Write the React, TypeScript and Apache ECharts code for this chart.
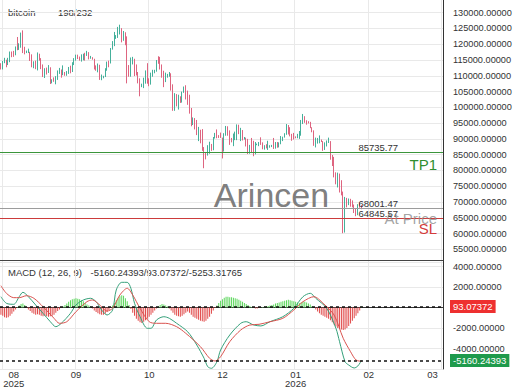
import React, { useEffect, useRef } from 'react';
import * as echarts from 'echarts';

// ---------- data ----------
const startDate = Date.UTC(2025, 7, 2); // 2025-08-02
const slotCount = 242;
const categories: string[] = Array.from({ length: slotCount }, (_, i) =>
  new Date(startDate + i * 86400000).toISOString().slice(0, 10)
);

const tickIndices = [1, 41, 81, 121, 161, 201, 241];
const tickMonths = ['08', '09', '10', '12', '01', '02', '03'];
const tickYears = ['2025', '', '', '', '2026', '', ''];

// [open, close, low, high]
const candles: number[][] = [
  [113300, 112500, 112000, 114000], [112500, 114200, 112000, 114700], [114200, 115000, 114000, 115700],
  [115000, 114100, 112700, 115100], [114100, 115000, 113400, 115700], [115000, 117500, 114300, 117700],
  [117500, 116700, 115900, 117700], [116700, 116500, 116000, 117900], [116500, 119300, 116500, 119300],
  [119300, 118700, 118100, 122300], [118700, 120200, 118200, 120300], [120200, 123300, 118900, 123700],
  [123300, 118400, 117200, 124400], [118400, 117400, 116800, 119200], [117400, 117500, 117200, 118000],
  [117500, 117500, 117200, 118600], [117500, 116300, 114700, 117600], [116300, 112900, 112700, 116800],
  [112900, 114200, 112400, 114600], [114200, 112500, 112100, 114800], [112500, 116900, 111700, 117400],
  [116900, 115400, 114800, 117000], [115400, 113500, 112100, 115600], [113500, 110100, 109600, 113600],
  [110100, 111800, 109300, 112400], [111800, 111200, 110400, 112600], [111200, 112600, 110900, 113400],
  [112600, 108400, 107400, 112700], [108400, 108800, 107600, 108900], [108800, 108300, 108100, 109500],
  // Sep
  [108300, 109200, 107300, 109900], [109200, 111200, 108700, 111700], [111200, 111700, 110600, 112500],
  [111700, 110700, 109400, 112000], [110700, 110700, 110200, 113300], [110700, 110200, 110000, 111200],
  [110200, 111100, 110000, 111500], [111100, 112100, 110600, 112800], [112100, 111500, 110800, 113200],
  [111500, 113900, 111200, 114300], [113900, 115500, 113400, 115600], [115500, 116100, 114800, 116700],
  [116100, 115900, 115300, 116700], [115900, 115300, 114800, 116100], [115300, 115400, 114500, 116800],
  [115400, 116800, 114900, 117000], [116800, 116500, 114800, 117300], [116500, 117100, 116300, 117900],
  [117100, 115700, 115200, 117500], [115700, 115700, 115400, 116300], [115700, 115300, 115100, 115900],
  [115300, 112700, 112000, 115400], [112700, 112000, 111600, 113300], [112000, 113300, 111100, 113900],
  [113300, 109000, 108700, 113500], [109000, 109700, 108600, 110400], [109700, 109700, 109200, 110000],
  [109700, 112100, 109600, 112400], [112100, 114400, 111600, 114500], [114400, 114000, 112700, 114800],
  // Oct
  [114000, 118600, 113900, 118800], [118600, 120600, 118300, 121000], [120600, 122300, 119400, 123900],
  [122300, 122400, 121700, 122900], [122400, 123500, 122000, 125500], [123500, 124700, 123100, 126200],
  [124700, 121400, 120600, 125100], [121400, 123300, 121100, 124200], [123300, 121700, 119700, 123800],
  [121700, 113200, 107600, 122500], [113200, 110600, 109700, 113400], [110600, 115200, 109700, 115800],
  [115200, 115300, 113600, 116000], [115300, 113000, 109900, 115400], [113000, 110800, 110100, 113600],
  [110800, 108200, 107600, 111200], [108200, 106500, 103500, 109200], [106500, 107200, 106400, 107500],
  [107200, 108600, 106100, 109400], [108600, 110500, 107500, 111700], [110500, 108400, 107500, 114000],
  [108400, 107500, 106700, 109200], [107500, 110000, 107200, 111000], [110000, 111000, 109700, 111900],
  [111000, 111600, 110800, 111900], [111600, 114500, 111300, 115000], [114500, 114100, 113800, 116200],
  [114100, 112900, 112000, 116000], [112900, 110000, 109400, 113600], [110000, 108300, 106400, 111600],
  [108300, 109600, 108000, 111000],
  // Nov
  [109600, 110100, 109400, 110600], [110100, 110600, 109700, 111200], [110600, 106500, 105300, 110800],
  [106500, 101600, 98900, 107300], [101600, 103900, 98900, 104500], [103900, 101300, 100300, 104200],
  [101300, 103300, 99300, 104000], [103300, 102300, 101400, 103500], [102300, 104700, 101500, 105000],
  [104700, 106000, 104600, 106600], [106000, 103000, 102500, 107000], [103000, 101600, 100800, 105300],
  [101600, 99700, 98000, 104000], [99700, 94400, 94000, 99800], [94400, 95500, 94400, 96800],
  [95500, 94200, 93000, 96600], [94200, 92200, 91200, 96000], [92200, 92900, 89300, 93800],
  [92900, 91500, 88600, 92900], [91500, 86600, 86200, 93100], [86600, 85100, 80700, 87400],
  [85100, 84700, 83500, 85600], [84700, 86800, 84700, 88000], [86800, 88300, 85300, 89100],
  [88300, 87300, 86200, 88400], [87300, 90500, 86400, 90600], [90500, 91300, 90100, 91900],
  [91300, 90900, 90200, 93000], [90900, 90800, 90300, 91200], [90800, 90400, 90300, 92000],
  // Dec
  [90400, 86300, 83800, 90400], [86300, 91300, 86000, 91800], [91300, 93500, 91000, 94100],
  [93500, 92100, 91000, 94000], [92100, 89400, 88100, 92700], [89400, 89300, 88900, 90300],
  [89300, 90400, 87700, 91700], [90400, 90600, 89600, 92300], [90600, 92700, 89600, 94600],
  [92700, 92000, 91500, 94500], [92000, 92500, 89300, 93500], [92500, 90300, 89500, 92800],
  [90300, 90300, 89800, 90600], [90300, 88200, 87600, 90400], [88200, 86400, 85200, 90000],
  [86400, 87800, 85300, 88100], [87800, 86200, 85500, 90300], [86200, 85500, 84500, 89400],
  [85500, 88100, 85100, 89000], [88100, 88300, 88000, 88500], [88300, 88600, 87700, 89000],
  [88600, 88500, 88100, 90500], [88500, 87400, 86700, 88900], [87400, 87600, 86600, 88000],
  [87600, 87200, 87000, 88300], [87200, 87300, 86500, 89400], [87300, 87800, 87200, 88000],
  [87800, 87800, 87400, 88100], [87800, 87100, 86800, 90300], [87100, 88400, 86900, 89000],
  [88400, 87500, 87200, 89000],
  // Jan 2026
  [87500, 88700, 87300, 88900], [88700, 89900, 88300, 90900], [89900, 90600, 89300, 90700],
  [90600, 91400, 90400, 91800], [91400, 93900, 91300, 94700], [93900, 93700, 91400, 94400],
  [93700, 91300, 90800, 93700], [91300, 91000, 89400, 91600], [91000, 90500, 89800, 91900],
  [90500, 90400, 90200, 90800], [90400, 90800, 90200, 91600], [90800, 91100, 90000, 92500],
  [91100, 95400, 91000, 96000], [95400, 97000, 94700, 97900], [97000, 95600, 95100, 97200],
  [95600, 95500, 94500, 95900], [95500, 95100, 94900, 95600], [95100, 93600, 93400, 95400],
  [93600, 92600, 92100, 93700], [92600, 88300, 87800, 92700], [88300, 89400, 87300, 90400],
  [89400, 89500, 88500, 90300], [89500, 89500, 88600, 91100], [89500, 89200, 89000, 89800],
  [89200, 86600, 86200, 89300], [86600, 88300, 86500, 88900], [88300, 89100, 87600, 89500],
  [89100, 89200, 88700, 90400], [89200, 84500, 83400, 89300], [84500, 84100, 81400, 84900],
  [84100, 78600, 77800, 84300],
  // Feb 2026
  [78600, 76900, 75600, 79400], [76900, 78700, 74600, 79300], [78700, 75600, 73000, 79000],
  [75600, 73000, 72100, 76900], [73000, 62700, 60100, 73300], [62700, 70500, 60300, 71600],
  [70500, 69300, 68300, 71300], [69300, 70600, 69000, 71100], [70600, 70000, 68500, 71000],
  [70000, 68800, 68300, 70500], [68800, 67000, 66500, 69200], [67000, 66200, 65500, 67800],
  [66200, 68900, 65800, 69300], [68900, 68600, 68200, 69900], [68600, 67995.00781, 67700, 69000],
];

const histogram: number[] = [
  -700, -800, -950, -1000, -950, -800, -600, -400, -200,
  50, 200, 350, 400, 250,
  -50,
  -200, -350, -500, -600, -700, -650, -700, -800, -850, -800, -850, -900, -850, -800, -700, -500, -350, -200,
  -50, 100, 250, 400,
  550, 700, 800, 850, 900, 850, 800, 700, 600, 450, 300, 200, 100,
  -100, -300, -450, -550, -650, -700, -700, -600, -450, -250, -50,
  200, 450, 700, 900, 1100, 1200, 1150, 900, 600, 250,
  -150, -500, -800, -1100, -1300, -1450, -1500, -1400, -1250, -1100, -900, -700, -500, -300, -100,
  100, 250, 350, 300, 200, 100,
  -100, -300, -500, -700, -800, -850, -900, -800, -650, -500,
  -400, -500, -700, -900, -1000, -1100, -1200, -1300, -1350, -1400, -1300, -1100, -900, -600, -300, -50,
  200, 450, 650, 800, 950, 1050, 1050, 1000, 1000, 950, 900, 850, 750, 650, 550, 450, 350, 250, 150,
  50, -50, -100, -100, -50, 0, 50, 100, 150, 150,
  200, 250, 300, 400, 450, 500, 550, 600, 650, 700, 750, 700, 650, 600, 550, 500, 450, 500, 550, 550, 500, 400, 300, 150, 0,
  -200, -400, -550, -700, -800, -900, -1000, -1100, -1250, -1450, -1650, -1850, -2000, -2100, -2150, -2200, -2150, -2000, -1800, -1550, -1300, -1050, -800, -550, -300, 93.07372,
];

const macdIdx = [0, 3, 7, 10, 12, 15, 19, 23, 27, 30, 33, 38, 41, 45, 49, 52, 55, 58, 61, 63, 66, 69, 71, 73, 76, 80, 82, 85, 89, 92, 96, 102, 107, 111, 113, 115, 118, 120, 125, 131, 134, 138, 142, 147, 154, 160, 165, 169, 172, 178, 183, 185, 188, 190, 193, 195, 197];
const macdVals = [1054, 410, 312, 1054, 1483, 1054, 244, -566, -1386, -1874, -1542, -566, 244, 732, 898, 566, -244, -732, -244, 1708, 2457, 2457, 1874, 410, -898, -2030, -2030, -1220, -898, -1054, -1542, -2362, -3660, -4958, -5778, -5934, -5290, -4148, -2684, -1542, -1386, -1700, -1800, -1386, -898, -78, 1054, 1386, 898, -78, -2030, -3338, -5290, -5612, -5900, -5700, -5160.24393];

const signalIdx = [0, 3, 7, 10, 14, 18, 23, 29, 32, 36, 41, 47, 50, 54, 58, 61, 65, 69, 72, 76, 81, 85, 90, 96, 101, 109, 114, 117, 120, 125, 131, 136, 141, 147, 154, 160, 165, 171, 176, 182, 187, 191, 194, 197];
const signalVals = [2128, 1386, 960, 960, 1152, 898, 78, -1054, -1542, -1386, -410, 566, 732, 244, -342, -78, 1220, 1874, 1220, -78, -1386, -1542, -1542, -1874, -2520, -3822, -4958, -5222, -4800, -3338, -2196, -1708, -1640, -1386, -1054, -244, 566, 1054, 410, -732, -3006, -4314, -5124, -5253.31765];

const tp1Level = 85735.77;
const atPriceLevel = 68001.47;
const slLevel = 64845.57;
const lastPrice = 67995.00781;
const macdLast = -5160.24393;
const histLast = 93.07372;
const signalLast = -5253.31765;
const levelLabelIdx = 195;

// ---------- styles ----------
const FONT = 'Liberation Sans, Arial, Helvetica, sans-serif';
const UP = '#45b09b';
const DOWN = '#de6580';
const GRID_LINE = '#e9e9e9';
const AXIS = '#333';
const TEXT = '#333';
const TP_GREEN = '#3b953b';
const SL_RED = '#cc3b3b';
const AT_GREY = '#9c9c9c';

const tickSet = new Set(tickIndices);
const labelIndexByCat = new Map<string, number>(tickIndices.map((ci, k) => [categories[ci], k]));

function xLabel(value: string) {
  const k = labelIndexByCat.get(value);
  if (k === undefined) return '';
  const st = k === 0 ? 'f' : k === tickIndices.length - 1 ? 'l' : 'n';
  const m = tickMonths[k];
  const y = tickYears[k];
  return y ? `{${st}|${m}}\n{${st}|${y}}` : `{${st}|${m}}`;
}

const richBase = { fontSize: 9.5, color: TEXT, lineHeight: 9, fontFamily: FONT };

function levelSeries(name: string, level: number, color: string, lineOpacity: number, label: any) {
  return {
    name, type: 'line', xAxisIndex: 0, yAxisIndex: 0, data: [], color, silent: true,
    markLine: {
      silent: true, symbol: ['none', 'none'], animation: false,
      lineStyle: { color, width: 1, type: 'solid', opacity: lineOpacity },
      label,
      data: [{ yAxis: level, lineStyle: { color, width: 1, type: 'solid', opacity: lineOpacity } }],
    },
  };
}

function buildOption(): any {
  return {
    animation: false,
    textStyle: { fontFamily: FONT },
    grid: [
      { left: 0, right: 77, top: -3.07, height: 268.14, outerBoundsMode: 'none', containLabel: false },
      { left: 0, right: 77, top: 262.4, height: 106.6, outerBoundsMode: 'none', containLabel: false },
    ],
    xAxis: [
      {
        type: 'category', gridIndex: 0, data: categories, boundaryGap: true,
        axisLine: { show: false }, axisTick: { show: false }, axisLabel: { show: false },
        splitLine: { show: true, interval: (i: number) => tickSet.has(i), lineStyle: { color: GRID_LINE } },
      },
      {
        type: 'category', gridIndex: 1, data: categories, boundaryGap: true,
        axisLine: { show: true, lineStyle: { color: AXIS, width: 1 } },
        axisTick: { show: false },
        axisLabel: {
          show: true, interval: (i: number) => tickSet.has(i), formatter: xLabel, margin: 1,
          rich: { n: richBase, f: { ...richBase, padding: [0, 0, 0, 22] }, l: { ...richBase, padding: [0, 19, 0, 0] } },
        },
        splitLine: { show: true, interval: (i: number) => tickSet.has(i), lineStyle: { color: GRID_LINE } },
      },
    ],
    yAxis: [
      {
        type: 'value', gridIndex: 0, position: 'right', min: 50000, max: 135000, interval: 5000,
        axisLine: { show: true, lineStyle: { color: AXIS } }, axisTick: { show: false },
        axisLabel: { color: TEXT, fontSize: 9.2, margin: 10, showMinLabel: false, formatter: (v: number) => v.toFixed(5) },
        splitLine: { show: true, showMinLine: false, lineStyle: { color: GRID_LINE } },
      },
      {
        type: 'value', gridIndex: 1, position: 'right', min: -6000, max: 4400, interval: 2000,
        axisLine: { show: true, lineStyle: { color: AXIS } }, axisTick: { show: false },
        axisLabel: {
          color: TEXT, fontSize: 9.2, margin: 10,
          formatter: (v: number) => (v === 0 || v <= -6000 || v > 4000 ? '' : v.toFixed(5)),
        },
        splitLine: { show: true, lineStyle: { color: GRID_LINE } },
      },
    ],
    graphic: [
      { type: 'line', shape: { x1: 0, y1: 260.5, x2: 443, y2: 260.5 }, style: { stroke: '#444', lineWidth: 1 }, z: 50 },
      { type: 'text', x: 8, y: 12.7, style: { text: 'bitcoin', fill: TEXT, fontSize: 9.5, fontFamily: FONT, verticalAlign: 'middle' } },
      { type: 'text', x: 58, y: 12.7, style: { text: `${198}/${232}`, fill: TEXT, fontSize: 9.5, fontFamily: FONT, verticalAlign: 'middle' } },
      { type: 'text', x: 8, y: 272.5, style: { text: 'MACD (12, 26, 9)', fill: TEXT, fontSize: 9.5, fontFamily: FONT, verticalAlign: 'middle' } },
      { type: 'text', x: 90.5, y: 272.5, style: { text: `${macdLast.toFixed(5)}/${histLast.toFixed(5)}/${signalLast.toFixed(5)}`, fill: TEXT, fontSize: 9.5, fontFamily: FONT, verticalAlign: 'middle' } },
      { type: 'text', x: 271.5, y: 195, z: 1, style: { text: 'Arincen', fill: 'rgba(110,110,110,0.9)', fontSize: 34, fontFamily: FONT, align: 'center', verticalAlign: 'middle' } },
    ],
    series: [
      {
        name: 'bitcoin', type: 'candlestick', xAxisIndex: 0, yAxisIndex: 0, data: candles, barWidth: 1.1,
        itemStyle: { color: UP, color0: DOWN, borderColor: UP, borderColor0: DOWN, borderWidth: 1 },
        markPoint: {
          silent: true, symbol: 'circle', symbolSize: 1, itemStyle: { color: 'rgba(0,0,0,0)' },
          label: { show: true, position: 'right', distance: 0, offset: [0, -5], color: TEXT, fontSize: 9.5, formatter: (p: any) => p.name },
          data: [
            { name: tp1Level.toFixed(2), coord: [levelLabelIdx, tp1Level] },
            { name: atPriceLevel.toFixed(2), coord: [levelLabelIdx, atPriceLevel] },
            { name: slLevel.toFixed(2), coord: [levelLabelIdx, slLevel] },
          ],
        },
      },
      levelSeries('TP1', tp1Level, TP_GREEN, 1,
        { show: true, position: 'insideEndBottom', formatter: 'TP1', color: '#2f8f2f', fontSize: 15, distance: [6, 5] }),
      levelSeries('At Price', atPriceLevel, AT_GREY, 1,
        { show: true, position: 'insideEndBottom', formatter: 'At Price', color: 'rgba(140,140,140,0.8)', fontSize: 15, distance: [6, 3] }),
      levelSeries('SL', slLevel, SL_RED, 1,
        { show: true, position: 'insideEndBottom', formatter: 'SL', color: '#d33b3b', fontSize: 15, distance: [6, 3] }),
      levelSeries('Last', lastPrice, '#e53a4a', 0,
        { show: true, position: 'end', formatter: lastPrice.toFixed(5), color: '#fff', backgroundColor: '#e53a4a', padding: [2, 3, 1, 3], fontSize: 9.5, distance: 7 }),
      {
        name: 'Histogram', type: 'bar', xAxisIndex: 1, yAxisIndex: 1, data: histogram, barWidth: 1,
        itemStyle: { color: (p: any) => (p.value >= 0 ? '#5bd65b' : '#e04848') },
        markLine: {
          silent: true, symbol: ['none', 'none'], animation: false,
          lineStyle: { color: '#111', width: 1.5, type: [3, 3] },
          data: [{ yAxis: histLast, lineStyle: { color: '#111', width: 1.5, type: [3, 3] },
            label: { show: true, position: 'end', formatter: histLast.toFixed(5), color: '#fff', backgroundColor: '#ee3030', padding: [2, 3, 1, 3], fontSize: 9.5, distance: 7 } }],
        },
      },
      {
        name: 'MACD', type: 'line', xAxisIndex: 1, yAxisIndex: 1, symbol: 'none', smooth: 0.3,
        data: macdIdx.map((ci, k) => [ci, macdVals[k]]),
        lineStyle: { color: '#35a07a', width: 1 },
        markLine: {
          silent: true, symbol: ['none', 'none'], animation: false,
          lineStyle: { color: '#111', width: 1.5, type: [3, 3] },
          data: [{ yAxis: macdLast, lineStyle: { color: '#111', width: 1.5, type: [3, 3] },
            label: { show: true, position: 'end', formatter: macdLast.toFixed(5), color: '#fff', backgroundColor: '#1f9a4c', padding: [2, 3, 1, 3], fontSize: 9.5, distance: 7 } }],
        },
      },
      {
        name: 'Signal', type: 'line', xAxisIndex: 1, yAxisIndex: 1, symbol: 'none', smooth: 0.3,
        data: signalIdx.map((ci, k) => [ci, signalVals[k]]),
        lineStyle: { color: '#d9534f', width: 1 },
      },
    ],
  };
}

export default function App() {
  const ref = useRef<HTMLDivElement>(null);
  useEffect(() => {
    if (!ref.current) return;
    const chart = echarts.init(ref.current, undefined, { renderer: 'svg' });
    chart.setOption(buildOption());
    return () => chart.dispose();
  }, []);
  return <div ref={ref} style={{ position: 'absolute', left: 0, top: 0, width: 520, height: 390, background: '#fff' }} />;
}
